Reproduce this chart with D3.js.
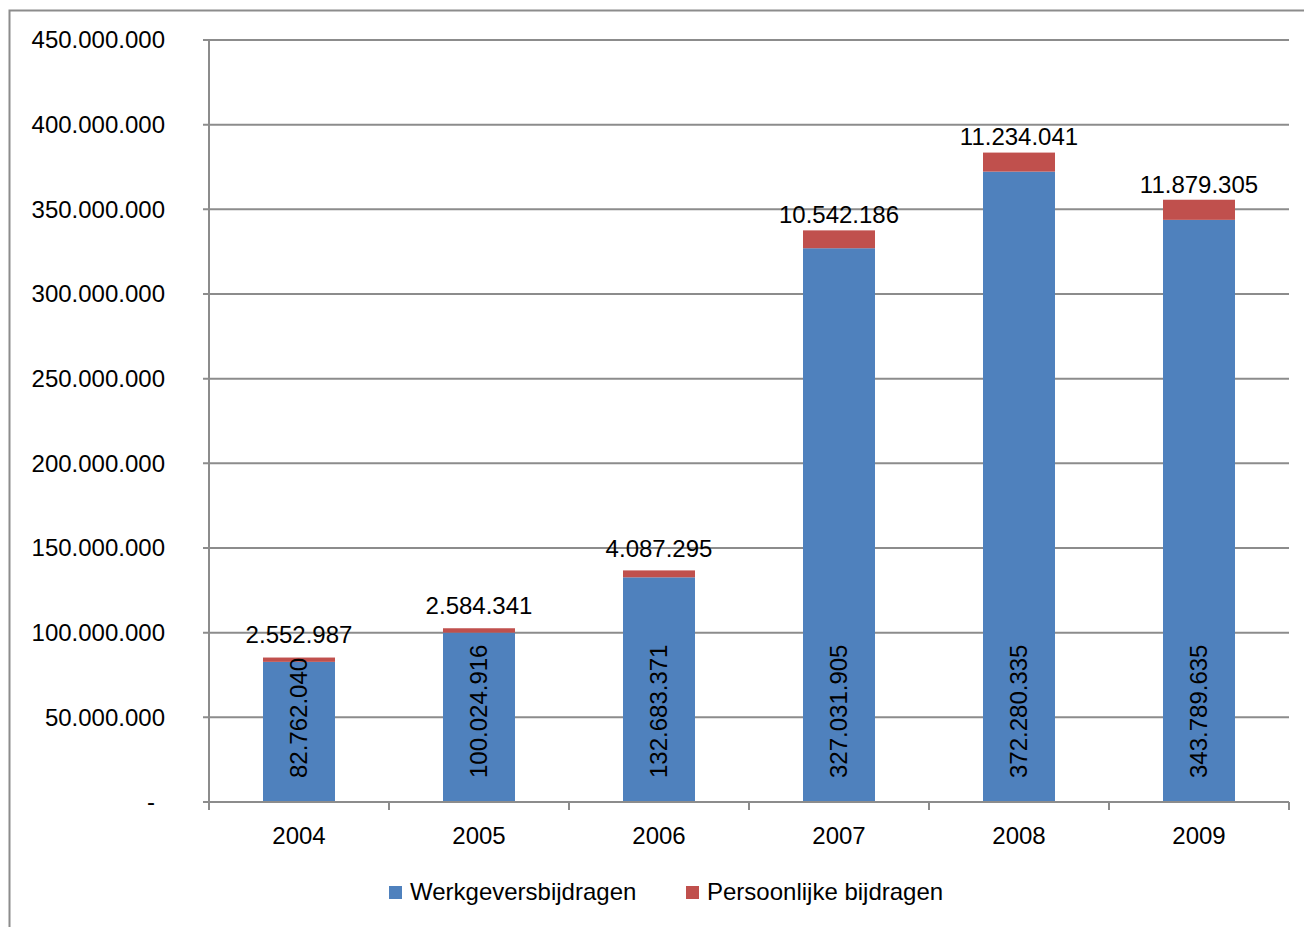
<!DOCTYPE html>
<html><head><meta charset="utf-8">
<script src="https://cdn.jsdelivr.net/npm/d3@7"></script>
<style>body{margin:0;background:#fff;} svg{display:block;}</style>
</head><body>
<script>
const years = ["2004","2005","2006","2007","2008","2009"];
const werkgevers = [82762040, 100024916, 132683371, 327031905, 372280335, 343789635];
const persoonlijk = [2552987, 2584341, 4087295, 10542186, 11234041, 11879305];
const yTicks = [0, 50000000, 100000000, 150000000, 200000000, 250000000, 300000000, 350000000, 400000000, 450000000];
const seriesNames = ["Werkgeversbijdragen", "Persoonlijke bijdragen"];
const colors = ["#4F81BD", "#C0504D"];

(function () {
const W = 1304, H = 927;
const fmt = v => v === 0 ? "-" : d3.format(",")(v).replace(/,/g, ".");
const font = "'Liberation Sans', Arial, sans-serif";
const fs = 24;

const svg = d3.select("body").append("svg").attr("width", W).attr("height", H);
svg.append("rect").attr("x", 9.5).attr("y", 10.5).attr("width", 1400).attr("height", 1000)
  .attr("fill", "#fff").attr("stroke", "#8c8c8c").attr("stroke-width", 2);

const pl = 209, pr = 1289, pt = 40, pb = 802;
const x = d3.scaleBand().domain(years).range([pl, pr]).paddingInner(0.6).paddingOuter(0.3);
const xb = d3.scaleBand().domain(years).range([pl, pr]);
const y = d3.scaleLinear().domain([0, 450000000]).range([pb, pt]);

// gridlines
svg.append("g").selectAll("line").data(yTicks.filter(d => d > 0)).join("line")
  .attr("x1", pl - 6).attr("x2", pr).attr("y1", d => y(d)).attr("y2", d => y(d))
  .attr("stroke", "#8c8c8c").attr("stroke-width", 2);

// y labels
svg.append("g").selectAll("text").data(yTicks).join("text")
  .attr("x", 165).attr("y", d => y(d)).attr("dy", "0.35em").attr("text-anchor", "end")
  .attr("font-family", font).attr("font-size", fs).attr("fill", "#000")
  .attr("dx", d => d === 0 ? -10 : 0)
  .text(fmt);

// bars
const stackData = years.map((yr, i) => ({ yr, w: werkgevers[i], p: persoonlijk[i] }));
const g = svg.append("g");
g.selectAll("rect.w").data(stackData).join("rect").attr("class", "w")
  .attr("x", d => x(d.yr)).attr("width", x.bandwidth())
  .attr("y", d => y(d.w)).attr("height", d => y(0) - y(d.w)).attr("fill", colors[0]);
g.selectAll("rect.p").data(stackData).join("rect").attr("class", "p")
  .attr("x", d => x(d.yr)).attr("width", x.bandwidth())
  .attr("y", d => y(d.w + d.p)).attr("height", d => y(d.w) - y(d.w + d.p)).attr("fill", colors[1]);

// axes lines
svg.append("line").attr("x1", pl).attr("x2", pl).attr("y1", pt).attr("y2", pb + 8)
  .attr("stroke", "#8c8c8c").attr("stroke-width", 2);
svg.append("line").attr("x1", pl - 6).attr("x2", pr).attr("y1", pb).attr("y2", pb)
  .attr("stroke", "#8c8c8c").attr("stroke-width", 2);
svg.append("g").selectAll("line").data(years.slice(1).concat(["end"])).join("line")
  .attr("x1", d => d === "end" ? pr : xb(d)).attr("x2", d => d === "end" ? pr : xb(d))
  .attr("y1", pb).attr("y2", pb + 8).attr("stroke", "#8c8c8c").attr("stroke-width", 2);

// x labels
svg.append("g").selectAll("text").data(years).join("text")
  .attr("x", d => xb(d) + xb.bandwidth() / 2).attr("y", 836).attr("dy", "0.35em")
  .attr("text-anchor", "middle").attr("font-family", font).attr("font-size", fs).text(d => d);

// inside labels (rotated)
g.selectAll("text.in").data(stackData).join("text").attr("class", "in")
  .attr("transform", d => `translate(${x(d.yr) + x.bandwidth() / 2},${pb - 24}) rotate(-90)`)
  .attr("dy", "0.35em").attr("text-anchor", "start")
  .attr("font-family", font).attr("font-size", fs).text(d => fmt(d.w));

// top labels
g.selectAll("text.top").data(stackData).join("text").attr("class", "top")
  .attr("x", d => x(d.yr) + x.bandwidth() / 2).attr("y", d => y(d.w + d.p / 2) - 25)
  .attr("dy", "0.35em")
  .attr("text-anchor", "middle").attr("font-family", font).attr("font-size", fs).text(d => fmt(d.p));

// legend
const leg = svg.append("g");
const legItems = [{ n: seriesNames[0], c: colors[0], x: 389 }, { n: seriesNames[1], c: colors[1], x: 686 }];
legItems.forEach(it => {
  leg.append("rect").attr("x", it.x).attr("y", 886).attr("width", 13).attr("height", 13).attr("fill", it.c);
  leg.append("text").attr("x", it.x + 21).attr("y", 892).attr("dy", "0.35em")
    .attr("font-family", font).attr("font-size", fs).text(it.n);
});
})();
</script>
</body></html>
